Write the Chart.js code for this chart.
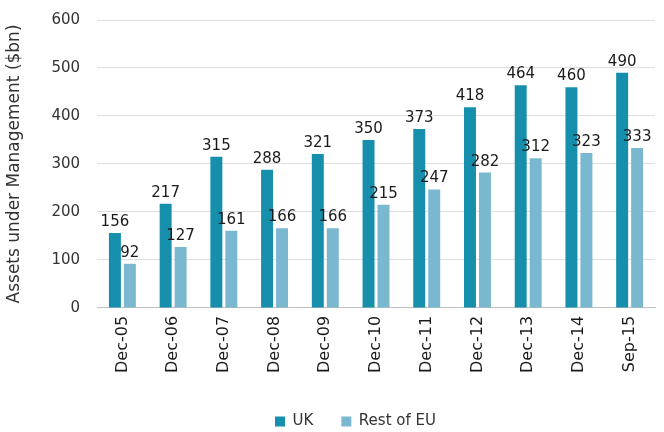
<!DOCTYPE html>
<html>
<head>
<meta charset="utf-8">
<script src="https://cdn.jsdelivr.net/npm/chart.js@4/dist/chart.umd.min.js"></script>
<style>
html,body{margin:0;padding:0;background:#fff;}
#wrap{width:664px;height:432px;}
</style>
</head>
<body>
<div id="wrap"><canvas id="c" width="664" height="432"></canvas></div>
<script>
const categories = ["Dec-05","Dec-06","Dec-07","Dec-08","Dec-09","Dec-10","Dec-11","Dec-12","Dec-13","Dec-14","Sep-15"];
const ukValues = [156,217,315,288,321,350,373,418,464,460,490];
const euValues = [92,127,161,166,166,215,247,282,312,323,333];
const seriesNames = ["UK","Rest of EU"];
const yTicks = [0,100,200,300,400,500,600];

const FONT = "'DejaVu Sans', sans-serif";

const labelPlugin = {
  id: 'valueLabels',
  afterDatasetsDraw(chart) {
    const ctx = chart.ctx;
    ctx.save();
    ctx.font = "15px " + FONT;
    ctx.fillStyle = "#1a1a1a";
    ctx.textAlign = "center";
    ctx.textBaseline = "alphabetic";
    chart.data.datasets.forEach((ds, i) => {
      const meta = chart.getDatasetMeta(i);
      meta.data.forEach((bar, j) => {
        ctx.fillText(String(ds.data[j]), bar.x, bar.y - 7);
      });
    });
    ctx.restore();
  }
};

const legendShift = {
  id: 'legendShift',
  afterLayout(chart) {
    const lg = chart.legend;
    if (lg) { lg.top += 13; lg.bottom += 13; lg.left += 26; lg.right += 26; }
  }
};

new Chart(document.getElementById('c'), {
  type: 'bar',
  data: {
    labels: categories,
    datasets: [
      { label: seriesNames[0], data: ukValues, backgroundColor: '#168fad', categoryPercentage: 0.59, barPercentage: 0.8 },
      { label: seriesNames[1], data: euValues, backgroundColor: '#79b8cf', categoryPercentage: 0.59, barPercentage: 0.8 }
    ]
  },
  options: {
    responsive: false,
    animation: false,
    layout: { padding: { top: 20, right: 9, left: 4, bottom: 6 } },
    plugins: {
      legend: {
        position: 'bottom',
        labels: { font: { size: 15, family: FONT }, color: '#333', boxWidth: 10, boxHeight: 10, padding: 28 }
      },
      tooltip: { enabled: false }
    },
    scales: {
      x: {
        grid: { display: false },
        border: { color: '#bfbfbf' },
        afterFit(axis) { axis.paddingTop = 0; },
        ticks: { font: { size: 16, family: FONT }, color: '#1a1a1a', maxRotation: 90, minRotation: 90, padding: 0 }
      },
      y: {
        min: 0, max: 600,
        afterBuildTicks(axis) { axis.ticks = yTicks.map(v => ({ value: v })); },
        afterFit(axis) { axis.paddingTop = 0; },
        grid: { color: '#dedede', drawTicks: false },
        border: { display: false },
        ticks: { font: { size: 15, family: FONT }, color: '#333', padding: 17 },
        title: { display: true, text: 'Assets under Management ($bn)', font: { size: 17, family: FONT }, color: '#333', padding: { top: 0, bottom: 10 } }
      }
    }
  },
  plugins: [labelPlugin, legendShift]
});
</script>
</body>
</html>
